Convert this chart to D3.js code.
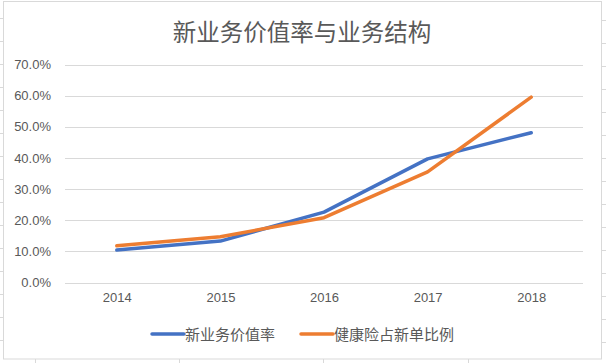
<!DOCTYPE html>
<html><head><meta charset="utf-8">
<script src="https://cdn.jsdelivr.net/npm/d3@7"></script>
<style>html,body{margin:0;padding:0;background:#fff;}svg{display:block;}</style>
</head><body>
<svg id="c" width="606" height="363"></svg>
<script>
const years = ["2014","2015","2016","2017","2018"];
const nbvMargin = [0.104, 0.133, 0.226, 0.397, 0.481];
const healthShare = [0.118, 0.147, 0.208, 0.355, 0.595];
const yTicks = [0, 0.1, 0.2, 0.3, 0.4, 0.5, 0.6, 0.7];
const seriesNames = ["新业务价值率", "健康险占新单比例"];
const colors = ["#4472C4", "#ED7D31"];

const svg = d3.select("#c");

// spreadsheet background cell lines (outside chart)
const bg = svg.append("g").attr("stroke", "#d9d9d9").attr("stroke-width", 1);
d3.range(18, 363, 23).forEach(y => {
  bg.append("line").attr("x1", 0).attr("x2", 3).attr("y1", y + 0.5).attr("y2", y + 0.5);
  bg.append("line").attr("x1", 602).attr("x2", 606).attr("y1", y + 2.5).attr("y2", y + 2.5);
});
[35, 179, 323, 468].forEach(x => {
  bg.append("line").attr("x1", x + 0.5).attr("x2", x + 0.5).attr("y1", 359).attr("y2", 363);
});

// chart border
svg.append("rect").attr("x", 3.5).attr("y", 1.5).attr("width", 598).attr("height", 357.5)
  .attr("fill", "#fff").attr("stroke", "#d9d9d9").attr("stroke-width", 1);

const x = d3.scalePoint().domain(years).range([65, 583]).padding(0.5);
const y = d3.scaleLinear().domain([0, 0.7]).range([282.5, 64.5]);

// gridlines
svg.append("g").selectAll("line").data(yTicks).join("line")
  .attr("x1", 65).attr("x2", 583)
  .attr("y1", d => Math.round(y(d)) + 0.5).attr("y2", d => Math.round(y(d)) + 0.5)
  .attr("stroke", "#d9d9d9").attr("stroke-width", 1);

// y axis labels
const yAxis = d3.axisLeft(y).tickValues(yTicks).tickFormat(d3.format(".1%")).tickSize(0).tickPadding(0);
const ga = svg.append("g").attr("transform", "translate(51,0)").call(yAxis);
ga.select(".domain").remove();
ga.selectAll("text").attr("font-family", "Liberation Sans, Arial, sans-serif")
  .attr("font-size", 13).attr("fill", "#595959");

// x axis labels
const xAxis = d3.axisBottom(x).tickSize(0).tickPadding(0);
const gx = svg.append("g").attr("transform", "translate(0,293)").call(xAxis);
gx.select(".domain").remove();
gx.selectAll("text").attr("font-family", "Liberation Sans, Arial, sans-serif")
  .attr("font-size", 13).attr("fill", "#595959");

// lines
const line = d3.line().x((d, i) => x(years[i])).y(d => y(d));
[nbvMargin, healthShare].forEach((s, k) => {
  svg.append("path").datum(s).attr("d", line).attr("fill", "none")
    .attr("stroke", colors[k]).attr("stroke-width", 3.5)
    .attr("stroke-linecap", "round").attr("stroke-linejoin", "round");
});

// title
svg.append("text").attr("x", 302).attr("y", 41).attr("text-anchor", "middle")
  .attr("font-family", "Noto Sans CJK SC, sans-serif").attr("font-size", 23.5)
  .attr("fill", "#595959").text("新业务价值率与业务结构");

// legend
const legendX = [152, 301];
seriesNames.forEach((n, k) => {
  const g = svg.append("g").attr("transform", `translate(${legendX[k]},334)`);
  g.append("line").attr("x1", 0).attr("x2", 32).attr("y1", 0).attr("y2", 0)
    .attr("stroke", colors[k]).attr("stroke-width", 3.5).attr("stroke-linecap", "round");
  g.append("text").attr("x", 33).attr("y", 5.5)
    .attr("font-family", "Noto Sans CJK SC, sans-serif").attr("font-size", 15)
    .attr("fill", "#595959").text(n);
});
</script>
</body></html>
